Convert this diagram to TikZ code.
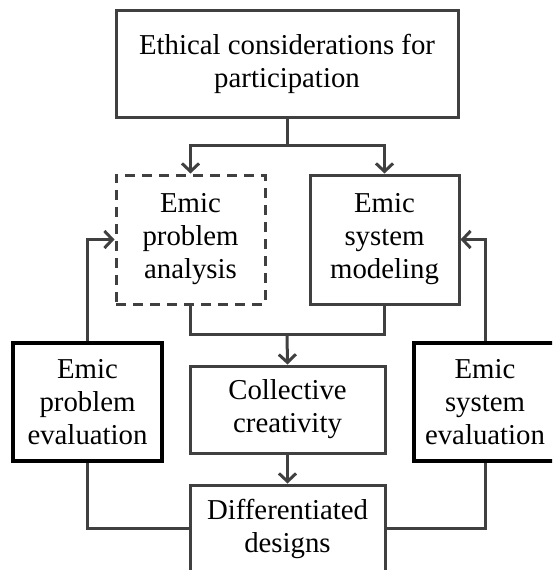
\documentclass[tikz,border=0pt]{standalone}
\usepackage{fontspec}
\setmainfont{Liberation Serif}
\usepackage{tikz}
\usetikzlibrary{arrows.meta}
\definecolor{linegray}{HTML}{404040}

\begin{document}
\begin{tikzpicture}[
        x=1pt, y=-1pt,
        every node/.style={draw=linegray, line width=3pt, align=center, inner sep=0pt,
            font=\fontsize{28.8}{33}\selectfont},
        phase/.style={minimum width=149pt, minimum height=129pt},
        dashed_phase/.style={phase, dashed, dash pattern=on 10pt off 7pt},
        mid/.style={minimum width=195pt, minimum height=87pt},
        eval/.style={draw=black, line width=3.5pt, minimum height=118pt},
        flow/.style={draw=linegray, line width=3pt},
        arr/.style={flow, -{Straight Barb[length=8pt, width=17pt, line width=3pt]}}
    ]
    \clip (0,0) rectangle (552,570);
    \node (ethics) [minimum width=342pt, minimum height=107pt] at (287,63.5)
        {Ethical considerations for\\participation};
    \node (prob_an) [dashed_phase] at (190.5,239.5) {Emic\\problem\\analysis};
    \node (sys_mod) [phase] at (384.5,239.5) {Emic\\system\\modeling};
    \node (coll) [mid] at (287.5,409.5) {Collective\\creativity};
    \node (diff) [mid] at (287.5,528.5) {Differentiated\\designs};
    \node (prob_ev) [eval, minimum width=149pt] at (87.5,402) {Emic\\problem\\evaluation};
    \node (sys_ev) [eval, minimum width=142pt] at (485,402) {Emic\\system\\evaluation};
    \coordinate (split) at (287,145);
    \coordinate (merge) at (287,334);

    % top split
    \draw[flow] (ethics.south) -- (split);
    \draw[arr] (split) -| (prob_an.north);
    \draw[arr] (split) -| (sys_mod.north);
    % merge into creativity
    \draw[flow] (prob_an.south) |- (merge) -| (sys_mod.south);
    \draw[arr] (merge) -- (coll.north);
    \draw[arr] (coll.south) -- (diff.north);
    % feedback loops
    \draw[flow] (diff.west) -| (prob_ev.south);
    \draw[arr] (prob_ev.north) |- (prob_an.west);
    \draw[flow] (diff.east) -| (sys_ev.south);
    \draw[arr] (sys_ev.north) |- (sys_mod.east);
\end{tikzpicture}
\end{document}
